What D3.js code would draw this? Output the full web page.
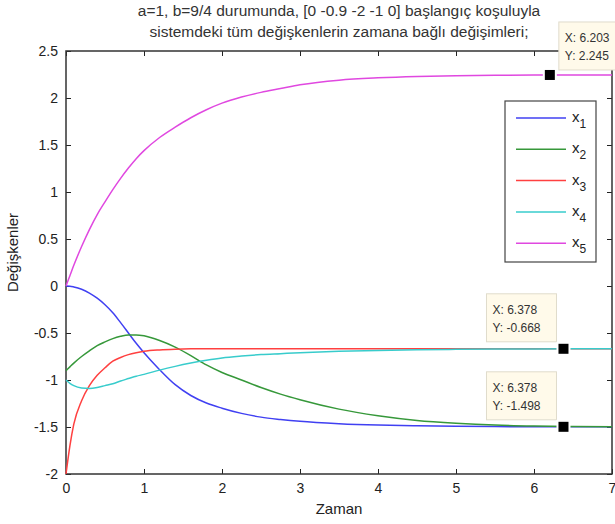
<!DOCTYPE html>
<html lang="tr">
<head>
<meta charset="UTF-8">
<title>Değişkenler</title>
<script src="https://d3js.org/d3.v7.min.js"></script>
<style type="text/css">
    body { margin: 0; background: #fff; }
    svg { display: block; font-family: "Liberation Sans", Arial, sans-serif; }
</style>
</head>
<body>
<div id="chartArea"></div>
<script type="text/javascript">
    // time samples (Zaman)
    var times = [0, 0.05, 0.1, 0.2, 0.3, 0.4, 0.5, 0.6, 0.7, 0.8, 0.9, 1.0, 1.2, 1.4, 1.6, 1.8, 2.0, 2.25, 2.5, 2.75, 3, 3.5, 4, 4.5, 5, 5.5, 6, 6.5, 7];

    var x1 = [0, -0.002, -0.01, -0.035, -0.075, -0.13, -0.20, -0.285, -0.39, -0.50, -0.61, -0.71, -0.89, -1.05, -1.165, -1.245, -1.30, -1.355, -1.395, -1.42, -1.44, -1.465, -1.48, -1.488, -1.493, -1.496, -1.497, -1.498, -1.498];
    var x2 = [-0.90, -0.86, -0.82, -0.75, -0.69, -0.635, -0.595, -0.56, -0.535, -0.52, -0.52, -0.53, -0.58, -0.65, -0.74, -0.84, -0.92, -1.00, -1.08, -1.15, -1.21, -1.31, -1.38, -1.43, -1.46, -1.48, -1.49, -1.495, -1.498];
    var x3 = [-2.0, -1.70, -1.47, -1.22, -1.06, -0.95, -0.87, -0.80, -0.76, -0.73, -0.71, -0.695, -0.68, -0.672, -0.668, -0.667, -0.667, -0.667, -0.668, -0.668, -0.668, -0.668, -0.668, -0.668, -0.668, -0.668, -0.668, -0.668, -0.668];
    var x4 = [-1.0, -1.035, -1.06, -1.085, -1.09, -1.08, -1.06, -1.04, -1.01, -0.985, -0.96, -0.94, -0.895, -0.855, -0.82, -0.79, -0.765, -0.745, -0.73, -0.72, -0.71, -0.695, -0.685, -0.678, -0.674, -0.671, -0.669, -0.668, -0.668];
    var x5 = [0, 0.11, 0.22, 0.42, 0.60, 0.76, 0.895, 1.025, 1.145, 1.255, 1.355, 1.44, 1.58, 1.69, 1.79, 1.875, 1.945, 2.01, 2.06, 2.10, 2.14, 2.19, 2.215, 2.23, 2.238, 2.242, 2.244, 2.245, 2.246];

    var seriesNames = ['1', '2', '3', '4', '5'];
    var seriesData = [x1, x2, x3, x4, x5];
    var colors = ['#4040f2', '#36983a', '#ff4040', '#38cccc', '#e048e0'];

    var xTicks = [0, 1, 2, 3, 4, 5, 6, 7];
    var yTicks = [-2, -1.5, -1, -0.5, 0, 0.5, 1, 1.5, 2, 2.5];

    // data tips: [x, y]
    var tips = [[6.203, 2.245], [6.378, -0.668], [6.378, -1.498]];

    var titleLines = ['a=1, b=9/4 durumunda, [0 -0.9 -2 -1 0] başlangıç koşuluyla',
        'sistemdeki tüm değişkenlerin zamana bağlı değişimleri;'];

    var W = 615, H = 524;
    var margin = { top: 51, right: 3, bottom: 50, left: 66 };
    var w = W - margin.left - margin.right,
        h = H - margin.top - margin.bottom;

    var root = d3.select('#chartArea').append('svg')
        .attr('width', W)
        .attr('height', H);

    var svg = root.append('g')
        .attr('transform', 'translate(' + margin.left + ',' + margin.top + ')');

    var xScale = d3.scaleLinear().domain([0, 7]).range([0, w]);
    var yScale = d3.scaleLinear().domain([-2, 2.5]).range([h, 0]);

    // axes with inward ticks on all sides
    function styleAxis(g) {
        g.select('.domain').remove();
        g.selectAll('.tick line').attr('stroke', '#222').attr('stroke-width', 1);
        g.selectAll('.tick text').attr('fill', '#222').style('font-size', '14px');
    }
    svg.append('g').attr('transform', 'translate(0,' + h + ')')
        .call(d3.axisBottom(xScale).tickValues(xTicks).tickSizeInner(-5).tickSizeOuter(0).tickPadding(9).tickFormat(d3.format('d')))
        .call(styleAxis);
    svg.append('g')
        .call(d3.axisTop(xScale).tickValues(xTicks).tickSizeInner(-5).tickSizeOuter(0).tickFormat(''))
        .call(styleAxis);
    svg.append('g')
        .call(d3.axisLeft(yScale).tickValues(yTicks).tickSizeInner(-5).tickSizeOuter(0).tickPadding(8).tickFormat(function (d) { return d; }))
        .call(styleAxis);
    svg.append('g').attr('transform', 'translate(' + w + ',0)')
        .call(d3.axisRight(yScale).tickValues(yTicks).tickSizeInner(-5).tickSizeOuter(0).tickFormat(''))
        .call(styleAxis);

    svg.append('rect')
        .attr('width', w).attr('height', h)
        .attr('fill', 'none').attr('stroke', '#333').attr('stroke-width', 1.5);

    var line = d3.line()
        .x(function (d, i) { return xScale(times[i]); })
        .y(function (d) { return yScale(d); })
        .curve(d3.curveMonotoneX);

    svg.selectAll('path.series')
        .data(seriesData)
        .enter()
        .append('path')
        .attr('class', 'series')
        .attr('d', line)
        .attr('fill', 'none')
        .attr('stroke', function (d, i) { return colors[i]; })
        .attr('stroke-width', 1.5);

    // legend
    var legend = svg.append('g').attr('transform', 'translate(' + (505 - margin.left) + ',' + (101 - margin.top) + ')');
    legend.append('rect')
        .attr('width', 91).attr('height', 161)
        .attr('fill', '#fff').attr('stroke', '#444').attr('stroke-width', 1.2);
    var items = legend.selectAll('g.item')
        .data(seriesNames)
        .enter()
        .append('g')
        .attr('transform', function (d, i) { return 'translate(0,' + (17 + i * 31.3) + ')'; });
    items.append('line')
        .attr('x1', 11).attr('x2', 61)
        .attr('stroke', function (d, i) { return colors[i]; })
        .attr('stroke-width', 1.5);
    var lt = items.append('text')
        .attr('x', 67).attr('y', 4)
        .attr('fill', '#222')
        .style('font-size', '15px')
        .text('x');
    lt.append('tspan')
        .attr('dy', 6)
        .style('font-size', '12px')
        .text(function (d) { return d; });

    // data tips
    tips.forEach(function (t, i) {
        var px = xScale(t[0]), py = yScale(t[1]);
        var bx = i === 0 ? px + 9 : px - 77;
        var by = i === 0 ? py - 53 : py - 55;
        var g = svg.append('g');
        g.append('rect')
            .attr('x', bx).attr('y', by).attr('width', i === 0 ? 90 : 70).attr('height', 48)
            .attr('fill', '#fffaea').attr('stroke', '#e0dccc');
        g.append('text').attr('x', bx + 6).attr('y', by + 20)
            .style('font-size', '12px').attr('fill', '#333')
            .text('X: ' + t[0]);
        g.append('text').attr('x', bx + 6).attr('y', by + 38)
            .style('font-size', '12px').attr('fill', '#333')
            .text('Y: ' + t[1]);
        g.append('rect')
            .attr('x', px - 6).attr('y', py - 6).attr('width', 12).attr('height', 12)
            .attr('fill', '#000').attr('stroke', '#fff').attr('stroke-width', 2);
    });

    // title and axis labels
    root.selectAll('text.title')
        .data(titleLines)
        .enter()
        .append('text')
        .attr('class', 'title')
        .attr('x', margin.left + w / 2)
        .attr('y', function (d, i) { return 16 + i * 21; })
        .attr('text-anchor', 'middle')
        .attr('fill', '#333')
        .style('font-size', '15.5px')
        .text(function (d) { return d; });

    root.append('text')
        .attr('x', margin.left + w / 2)
        .attr('y', 514)
        .attr('text-anchor', 'middle')
        .attr('fill', '#222')
        .style('font-size', '15px')
        .text('Zaman');

    root.append('text')
        .attr('transform', 'translate(18,' + (margin.top + h / 2 - 10) + ') rotate(-90)')
        .attr('text-anchor', 'middle')
        .attr('fill', '#222')
        .style('font-size', '15px')
        .text('Değişkenler');
</script>
</body>
</html>
